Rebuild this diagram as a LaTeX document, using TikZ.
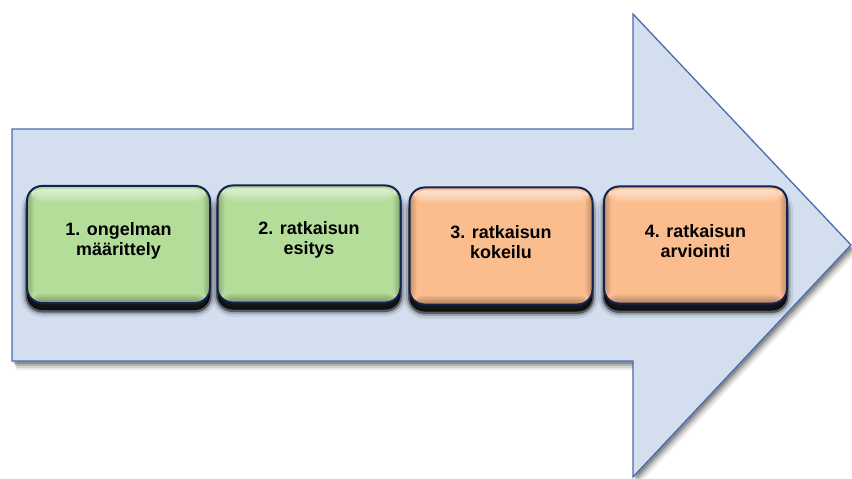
\documentclass[tikz,border=0pt]{standalone}
\usepackage{fontspec}
\setmainfont{Liberation Sans}
\definecolor{arrowfill}{RGB}{211,222,239}
\definecolor{arrowline}{RGB}{72,108,172}
\definecolor{boxgreen}{RGB}{181,221,154}
\definecolor{boxorange}{RGB}{251,189,141}
\definecolor{boxline}{RGB}{20,34,80}
\tikzset{
  stepbox/.style={rounded corners=15bp, draw=boxline, line width=2bp,
    minimum width=183bp, minimum height=117bp, inner sep=0pt,
    preaction={draw=black, line width=12bp, opacity=0.08, transform canvas={yshift=-8bp}},
    preaction={draw=black, line width=7bp, opacity=0.18, transform canvas={yshift=-8bp}},
    preaction={draw=black, line width=3bp, opacity=0.45, transform canvas={yshift=-8bp}},
    preaction={fill=black, opacity=0.9, transform canvas={yshift=-7bp}},
    path picture={
      \foreach \i in {1,...,9}{
        \fill[white, opacity=0.09, rounded corners=10bp]
          ([xshift=5bp,yshift=-3bp]path picture bounding box.north west)
          rectangle ([xshift=-5bp,yshift={-3bp-1.4bp*\i}]path picture bounding box.north east);
      }
      \foreach \i in {1,...,6}{
        \fill[black, opacity=0.05]
          (path picture bounding box.south west)
          rectangle ([yshift={1.5bp*\i}]path picture bounding box.south east);
        \fill[black, opacity=0.04]
          (path picture bounding box.south west)
          rectangle ([xshift={1.2bp*\i}]path picture bounding box.north west);
        \fill[black, opacity=0.04]
          (path picture bounding box.south east)
          rectangle ([xshift={-1.2bp*\i}]path picture bounding box.north east);
      }
    }},
  steptext/.style={font=\bfseries\fontsize{18}{20}\selectfont, align=center, text=black, inner sep=0pt}
}
\begin{document}
\begin{tikzpicture}[x=1bp,y=-1bp]
\useasboundingbox (0,0) rectangle (852,479);
% arrow shadow
\foreach \o/\op in {9/0.07,7/0.10,5/0.15,3/0.22}{
  \fill[black, opacity=\op, shift={(\o*0.5,\o)}]
    (12,129) -- (633,129) -- (633,14) -- (851,245) -- (633,477) -- (633,361) -- (12,361) -- cycle;
}
% arrow
\draw[fill=arrowfill, draw=arrowline, line width=1.3bp, line join=miter]
  (12,129) -- (633,129) -- (633,14) -- (851,245) -- (633,477) -- (633,361) -- (12,361) -- cycle;
% boxes
\node[stepbox, fill=boxgreen]  (b1) at (118.5,244.5) {};
\node[stepbox, fill=boxgreen]  (b2) at (309,244) {};
\node[stepbox, fill=boxorange] (b3) at (501,246) {};
\node[stepbox, fill=boxorange] (b4) at (695.5,245) {};
% texts
\node[steptext] (t1) at ([yshift=4bp]b1.center) {1. ongelman\\määrittely};
\node[steptext] (t2) at ([yshift=4bp]b2.center) {2. ratkaisun\\esitys};
\node[steptext] (t3) at ([yshift=4bp]b3.center) {3. ratkaisun\\kokeilu};
\node[steptext] (t4) at ([yshift=4bp]b4.center) {4. ratkaisun\\arviointi};
\end{tikzpicture}
\end{document}
